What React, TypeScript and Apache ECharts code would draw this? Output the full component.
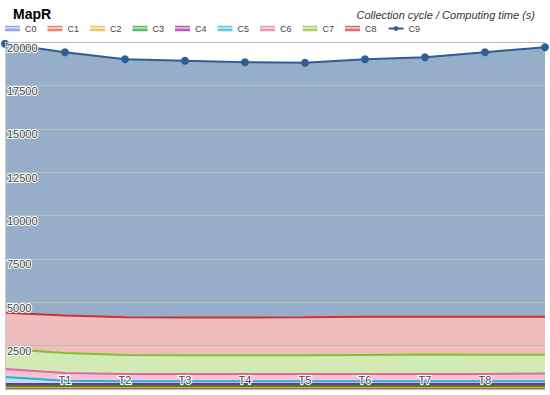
import React, { useEffect, useRef } from "react";
import * as echarts from "echarts";

const categories = ["T0", "T1", "T2", "T3", "T4", "T5", "T6", "T7", "T8", "T9"];
const seriesNames = ["C0", "C1", "C2", "C3", "C4", "C5", "C6", "C7", "C8", "C9"];
const c0 = [30, 30, 30, 30, 30, 30, 30, 30, 30, 30];
const c1 = [35, 35, 35, 35, 35, 35, 35, 35, 35, 35];
const c2 = [45, 45, 45, 45, 45, 45, 45, 45, 45, 45];
const c3 = [70, 70, 70, 70, 70, 70, 70, 70, 70, 70];
const c4 = [110, 110, 110, 110, 110, 110, 110, 110, 110, 110];
const c5 = [400, 180, 160, 150, 150, 150, 150, 150, 150, 160];
const c6 = [466, 455, 420, 420, 420, 420, 430, 430, 430, 440];
const c7 = [1156, 1155, 1095, 1090, 1090, 1090, 1095, 1120, 1110, 1080];
const c8 = [2080, 2160, 2175, 2170, 2170, 2180, 2195, 2180, 2180, 2190];
const c9 = [15508, 15172, 14869, 14797, 14717, 14672, 14849, 14954, 15252, 15540];
const seriesData = [c0, c1, c2, c3, c4, c5, c6, c7, c8, c9];
const colors = ["#5B86E5", "#E0533B", "#F7A535", "#1E9A2C", "#9C1AA0", "#25B2D6", "#E2689A", "#7DC42B", "#CC3333", "#2E5E96"];
const areaOpacity = [0.35, 0.35, 0.35, 0.35, 0.35, 0.35, 0.4, 0.35, 0.32, 0.5];

const areaIcon = "path://M0,0 H16 V2 H0 Z M0,3 H16 V6 H0 Z";

export default function App() {
  const ref = useRef<HTMLDivElement>(null);
  useEffect(() => {
    const chart = echarts.init(ref.current!, undefined, { renderer: "svg" });
    const series = seriesNames.map((name, i) => ({
      name,
      type: "line",
      stack: "total",
      data: seriesData[i],
      symbol: i === 9 ? "circle" : "none",
      symbolSize: 8,
      showSymbol: i === 9,
      lineStyle: { width: 2, color: colors[i] },
      itemStyle: { color: colors[i] },
      areaStyle: { color: colors[i], opacity: areaOpacity[i] },
      z: 2,
    }));
    const legendData = seriesNames.map((name, i) =>
      i === 9
        ? { name }
        : { name, icon: areaIcon, itemStyle: { color: colors[i], opacity: 0.7 } }
    );
    chart.setOption({
      animation: false,
      color: colors,
      title: [
        {
          text: "MapR",
          left: 8,
          top: 2,
          textStyle: { fontFamily: "Liberation Sans, Arial", fontSize: 14, fontWeight: "bold", color: "#000" },
        },
        {
          text: "Collection cycle / Computing time (s)",
          right: 10,
          top: 4,
          textStyle: { fontFamily: "Liberation Sans, Arial", fontSize: 11, fontStyle: "italic", fontWeight: "normal", color: "#333" },
        },
      ],
      legend: {
        data: legendData,
        left: 0,
        top: 19,
        itemWidth: 15,
        itemHeight: 6,
        itemGap: 11,
        textStyle: { fontFamily: "Liberation Sans, Arial", fontSize: 9, color: "#444" },
      },
      grid: { left: 5, right: 5, top: 42, bottom: 6 },
      xAxis: {
        type: "category",
        data: categories,
        boundaryGap: false,
        axisLine: { show: false },
        axisTick: { show: false },
        axisLabel: {
          inside: true,
          margin: 4,
          showMinLabel: false,
          showMaxLabel: false,
          fontFamily: "Liberation Sans, Arial",
          fontSize: 11,
          color: "#444",
          textBorderColor: "#fff",
          textBorderWidth: 2,
        },
        splitLine: { show: false },
        z: 5,
      },
      yAxis: {
        type: "value",
        min: 0,
        max: 20000,
        interval: 2500,
        axisLine: { show: true, lineStyle: { color: "#ccc" } },
        axisTick: { show: false },
        axisLabel: {
          inside: true,
          margin: 2,
          showMinLabel: false,
          verticalAlign: "top",
          formatter: (v: number) => String(v),
          fontFamily: "Liberation Sans, Arial",
          fontSize: 11,
          color: "#444",
          textBorderColor: "#fff",
          textBorderWidth: 2,
        },
        splitLine: { show: true, lineStyle: { color: "#bbb", width: 1 } },
        z: 5,
      },
      series,
    });
    return () => chart.dispose();
  }, []);
  return <div ref={ref} style={{ width: 550, height: 395, position: "absolute", left: 0, top: 0 }} />;
}
